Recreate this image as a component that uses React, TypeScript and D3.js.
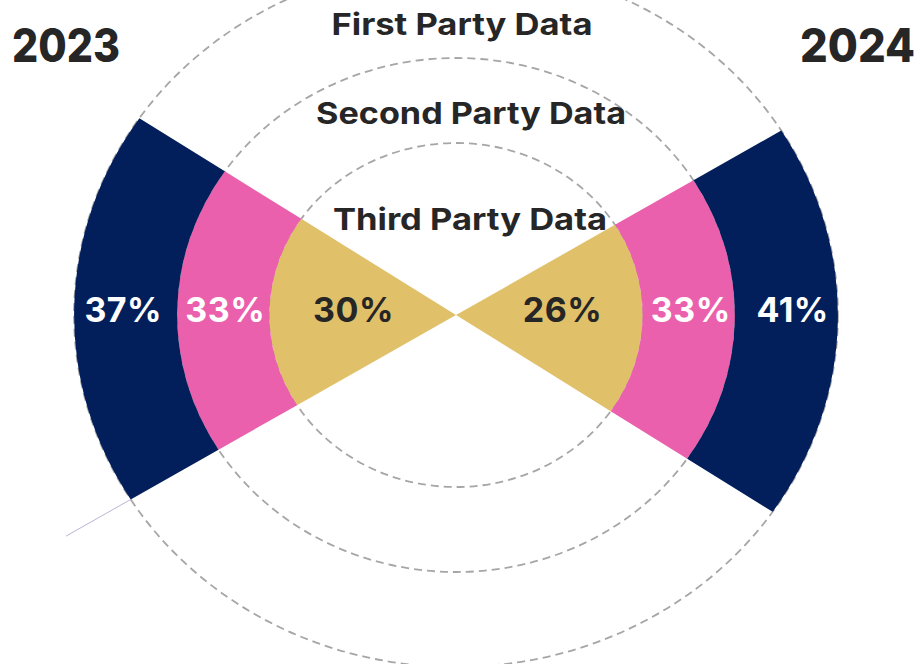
import * as d3 from "d3";
import React, { useEffect, useRef } from "react";

// data
const years = ["2023", "2024"];
const categories = ["Third Party Data", "Second Party Data", "First Party Data"];
const values2023 = [30, 33, 37];
const values2024 = [26, 33, 41];
const colors = ["#E1C06A", "#EB60AD", "#031F5B"];
const labelColors = ["#262626", "#ffffff", "#ffffff"];

const W = 920, H = 664;

export default function App() {
  const svgRef = useRef<SVGSVGElement>(null);
  const isRender = useRef(false);

  useEffect(() => {
    if (isRender.current || !svgRef.current) return;
    isRender.current = true;

    const cx = 456, cy = 315;
    const sx = 1.085; // chart is slightly stretched sideways
    const tilt = (1.2 * Math.PI) / 180;
    const half = (32.8 * Math.PI) / 180;
    const font = "Inter, 'Open Sans', sans-serif";

    // ring index -> radius
    const radius = d3.scaleLinear().domain([0, 1, 2, 3]).range([0, 172, 257, 352]);

    const svg = d3.select(svgRef.current).attr("width", W).attr("height", H);

    const g = svg.append("g").attr("transform", `translate(${cx},${cy}) scale(${sx},1)`);

    // dashed guide circles
    g.selectAll("circle.guide")
      .data(categories)
      .enter()
      .append("circle")
      .attr("class", "guide")
      .attr("r", (_, i) => radius(i + 1))
      .attr("fill", "none")
      .attr("stroke", "#a6a6a6")
      .attr("stroke-width", 1.8)
      .attr("stroke-dasharray", "8 5")
      .attr("vector-effect", "non-scaling-stroke");

    const arc = d3.arc<any>();

    const sides = [
      { year: years[0], values: values2023, mid: 1.5 * Math.PI + tilt, dir: -1 },
      { year: years[1], values: values2024, mid: 0.5 * Math.PI + tilt, dir: 1 },
    ];

    const labelCx = 458;
    sides.forEach((side) => {
      const segs = side.values.map((v, i) => ({
        value: v,
        i,
        innerRadius: radius(i),
        outerRadius: radius(i + 1),
        startAngle: side.mid - half,
        endAngle: side.mid + half,
      }));

      g.selectAll(null)
        .data(segs)
        .enter()
        .append("path")
        .attr("d", (d) => arc(d))
        .attr("fill", (d) => colors[d.i]);

      // value labels (not stretched)
      svg.selectAll(null)
        .data(segs)
        .enter()
        .append("text")
        .attr("x", (d) => {
          const r = d.i === 0 ? d.outerRadius * 0.56 : (d.innerRadius + d.outerRadius) / 2 + (d.i === 2 ? 4 : 0);
          return labelCx + side.dir * r * sx;
        })
        .attr("y", 322)
        .attr("text-anchor", "middle")
        .style("font-family", font)
        .style("font-weight", 700)
        .style("font-size", "34px")
        .style("letter-spacing", "0.5px")
        .style("fill", (d) => labelColors[d.i])
        .text((d) => d.value + "%");
    });

    // thin line extending the lower edge of the 2023 wedge
    const a = sides[0].mid - half;
    const r0 = radius(3), r1 = radius(3) + 70;
    g.append("line")
      .attr("x1", Math.sin(a) * r0)
      .attr("y1", -Math.cos(a) * r0)
      .attr("x2", Math.sin(a) * r1)
      .attr("y2", -Math.cos(a) * r1)
      .attr("stroke", "#ad9fcc")
      .attr("stroke-width", 0.8)
      .attr("vector-effect", "non-scaling-stroke");

    // category labels
    const labelY = d3.scaleLinear().domain([0, 1, 2]).range([230, 124, 35]);
    const labelX = d3.scaleLinear().domain([0, 1, 2]).range([470, 471, 462]);
    const labelW = d3.scaleLinear().domain([0, 1, 2]).range([274, 310, 261]);
    svg.selectAll(null)
      .data(categories)
      .enter()
      .append("text")
      .attr("x", (_, i) => labelX(i))
      .attr("y", (_, i) => labelY(i))
      .attr("text-anchor", "middle")
      .attr("textLength", (_, i) => labelW(i))
      .attr("lengthAdjust", "spacingAndGlyphs")
      .style("font-family", font)
      .style("font-weight", 700)
      .style("font-size", "30px")
      .style("fill", "#262626")
      .text((d) => d);

    // years
    svg.append("text")
      .attr("x", 12)
      .attr("y", 62)
      .attr("text-anchor", "start")
      .attr("textLength", 108)
      .attr("lengthAdjust", "spacingAndGlyphs")
      .style("font-family", font)
      .style("font-weight", 800)
      .style("font-size", "46px")
      .style("fill", "#262626")
      .text(years[0]);
    svg.append("text")
      .attr("x", 800)
      .attr("y", 62)
      .attr("text-anchor", "start")
      .attr("textLength", 115)
      .attr("lengthAdjust", "spacingAndGlyphs")
      .style("font-family", font)
      .style("font-weight", 800)
      .style("font-size", "46px")
      .style("fill", "#262626")
      .text(years[1]);
  }, []);

  return (
    <div style={{ position: "absolute", left: 0, top: 0, width: W, height: H, background: "#fff" }}>
      <svg ref={svgRef} style={{ display: "block" }} />
    </div>
  );
}
